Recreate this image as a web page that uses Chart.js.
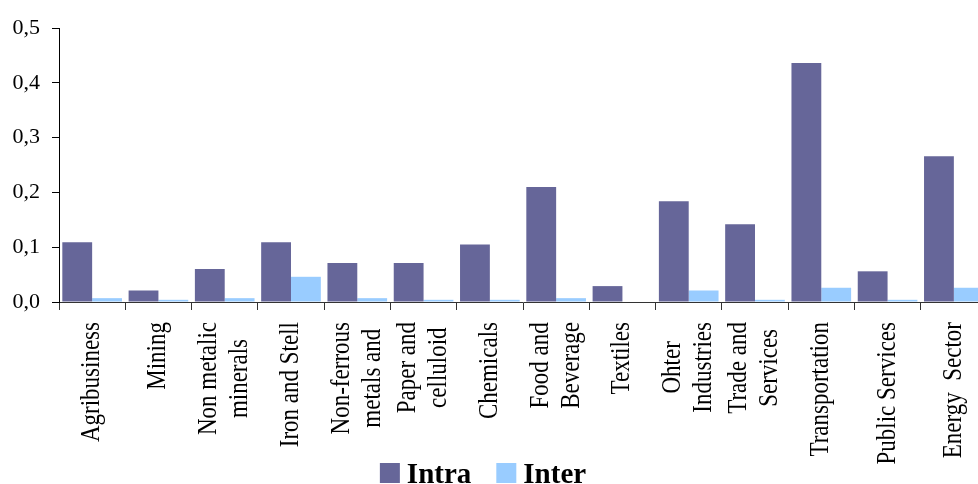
<!DOCTYPE html>
<html>
<head>
<meta charset="utf-8">
<script src="https://cdn.jsdelivr.net/npm/chart.js@4/dist/chart.umd.min.js"></script>
<style>
  html, body { margin: 0; padding: 0; background: #fff; overflow: hidden; }
  #wrap { width: 978px; height: 484px; overflow: hidden; position: relative; }
  canvas { display: block; }
</style>
</head>
<body>
<div id="wrap"><canvas id="c" width="987" height="484"></canvas></div>
<script>
const categories = [
  "Agribusiness",
  "Mining",
  ["Non metalic", "minerals"],
  "Iron and Stell",
  ["Non-ferrous", "metals and"],
  ["Paper and", "celluloid"],
  "Chemicals",
  ["Food and", "Beverage"],
  "Textiles",
  ["Ohter", "Industries"],
  ["Trade and", "Services"],
  "Transportation",
  "Public Services",
  "Energy  Sector"
];
const intraValues = [0.109, 0.021, 0.060, 0.109, 0.071, 0.071, 0.105, 0.210, 0.029, 0.184, 0.142, 0.436, 0.056, 0.266];
const interValues = [0.007, 0.004, 0.007, 0.046, 0.007, 0.004, 0.004, 0.007, 0.000, 0.021, 0.004, 0.026, 0.004, 0.026];
const yTickLabels = ["0,0", "0,1", "0,2", "0,3", "0,4", "0,5"];
const seriesNames = ["Intra", "Inter"];
const seriesColors = ["#666699", "#99CCFF"];

const drawExtras = {
  id: 'drawExtras',
  afterDraw(chart) {
    const ctx = chart.ctx;
    const x = chart.scales.x;
    ctx.save();
    // category labels (rotated, lines centred on each other)
    ctx.font = '23px "Liberation Serif"';
    ctx.fillStyle = '#000';
    ctx.textAlign = 'center';
    ctx.textBaseline = 'middle';
    const top = x.top + 20;
    categories.forEach((lab, i) => {
      const lines = Array.isArray(lab) ? lab : [lab];
      const cx = x.getPixelForValue(i);
      const maxW = Math.max(...lines.map(l => ctx.measureText(l).width));
      const cy = top + maxW / 2;
      lines.forEach((l, j) => {
        const lx = cx + (j - (lines.length - 1) / 2) * 31;
        ctx.save();
        ctx.translate(lx, cy);
        ctx.scale(1.15, 1);
        ctx.rotate(-Math.PI / 2);
        ctx.fillText(l, 0, 0);
        ctx.restore();
      });
    });
    // legend
    ctx.font = 'bold 29px "Liberation Serif"';
    ctx.textAlign = 'left';
    ctx.textBaseline = 'alphabetic';
    const box = 20, gapText = 7, gapItem = 25;
    const ds = chart.data.datasets;
    const widths = ds.map(d => ctx.measureText(d.label).width);
    let total = 0;
    widths.forEach((w, i) => { total += box + gapText + w + (i < widths.length - 1 ? gapItem : 0); });
    let lx = 483 - total / 2;
    ds.forEach((d, i) => {
      ctx.fillStyle = d.backgroundColor;
      ctx.fillRect(lx, 463, box, box);
      ctx.fillStyle = '#000';
      ctx.fillText(d.label, lx + box + gapText, 482.5);
      lx += box + gapText + widths[i] + gapItem;
    });
    ctx.restore();
  }
};

new Chart(document.getElementById('c'), {
  type: 'bar',
  data: {
    labels: categories,
    datasets: [
      { label: seriesNames[0], data: intraValues, backgroundColor: seriesColors[0], categoryPercentage: 0.9, barPercentage: 1.0, borderWidth: 0 },
      { label: seriesNames[1], data: interValues, backgroundColor: seriesColors[1], categoryPercentage: 0.9, barPercentage: 1.0, borderWidth: 0 }
    ]
  },
  options: {
    responsive: false,
    animation: false,
    layout: { padding: { top: 28, right: 0, bottom: 0, left: 0 } },
    plugins: { legend: { display: false }, tooltip: { enabled: false } },
    scales: {
      x: {
        grid: { display: true, drawOnChartArea: false, drawTicks: true, tickLength: 8, color: '#333', offset: true },
        border: { color: '#333', width: 1 },
        ticks: { display: false },
        afterFit(s) { s.height = 182; }
      },
      y: {
        min: 0, max: 0.5,
        ticks: {
          stepSize: 0.1, padding: 12, color: '#000',
          font: { family: 'Liberation Serif', size: 22 },
          callback: (v, i) => yTickLabels[i]
        },
        grid: { drawOnChartArea: false, drawTicks: true, tickLength: 7, color: '#000' },
        border: { color: '#000', width: 1 },
        afterFit(s) { s.width = 59; }
      }
    }
  },
  plugins: [drawExtras]
});
</script>
</body>
</html>
